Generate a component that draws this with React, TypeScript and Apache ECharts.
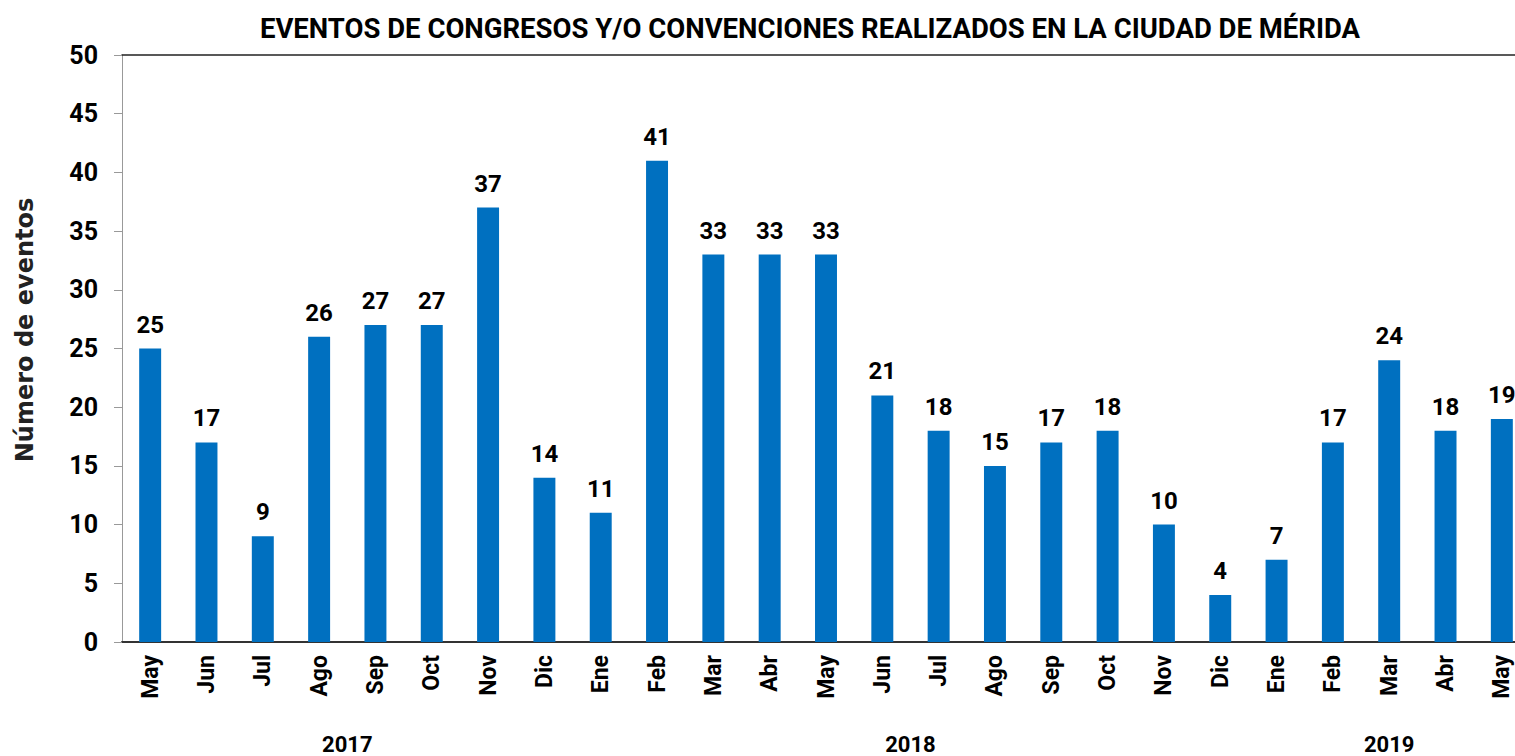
import React, { useEffect, useRef } from "react";
import * as echarts from "echarts";

const months = ["May","Jun","Jul","Ago","Sep","Oct","Nov","Dic","Ene","Feb","Mar","Abr","May","Jun","Jul","Ago","Sep","Oct","Nov","Dic","Ene","Feb","Mar","Abr","May"];
const eventos = [25,17,9,26,27,27,37,14,11,41,33,33,33,21,18,15,17,18,10,4,7,17,24,18,19];
const years = [
  { label: "2017", from: 0, to: 7 },
  { label: "2018", from: 8, to: 19 },
  { label: "2019", from: 20, to: 24 },
];
const title = "EVENTOS DE CONGRESOS Y/O CONVENCIONES REALIZADOS EN LA CIUDAD DE MÉRIDA";
const yName = "Número de eventos";

const FONT = "Roboto";

export default function App() {
  const ref = useRef<HTMLDivElement>(null);
  useEffect(() => {
    if (!ref.current) return;
    const chart = echarts.init(ref.current, null, { renderer: "svg" });
    const cats = months.map((m, i) => m + "_" + i);
    chart.setOption({
      animation: false,
      title: {
        text: title,
        left: 805,
        top: 9,
        textAlign: "center",
        textStyle: { fontFamily: FONT, fontWeight: "bold", fontSize: 27.5, color: "#000" },
      },
      grid: { left: 122, top: 55, bottom: 114, right: 0 },
      xAxis: [
        {
          type: "category",
          data: cats,
          axisLine: { show: true, lineStyle: { color: "#333", width: 2 } },
          axisTick: { show: false },
          axisLabel: {
            rotate: 90,
            margin: 13,
            fontFamily: FONT,
            fontWeight: "bold",
            fontSize: 23,
            color: "#000",
            formatter: (v: string) => v.split("_")[0],
          },
        },
        {
          type: "category",
          position: "top",
          data: cats,
          axisLine: { show: true, lineStyle: { color: "#222", width: 1.5 } },
          axisTick: { show: false },
          axisLabel: { show: false },
        },
      ],
      yAxis: {
        type: "value",
        min: 0,
        max: 50,
        interval: 5,
        axisLine: { show: true, lineStyle: { color: "#999", width: 1 } },
        axisTick: { show: true, length: 8, lineStyle: { color: "#999" } },
        splitLine: { show: false },
        axisLabel: { margin: 24, fontFamily: FONT, fontWeight: "bold", fontSize: 25, color: "#000" },
      },
      series: [
        {
          type: "bar",
          data: eventos,
          barWidth: "39%",
          itemStyle: { color: "#0070C0" },
          label: {
            show: true,
            position: "top",
            distance: 12,
            fontFamily: FONT,
            fontWeight: "bold",
            fontSize: 24,
            color: "#000",
          },
        },
      ],
    });
    const graphics: any[] = years.map((y) => {
      const a = chart.convertToPixel({ xAxisIndex: 0 }, cats[y.from]) as number;
      const b = chart.convertToPixel({ xAxisIndex: 0 }, cats[y.to]) as number;
      return {
        type: "text",
        x: (a + b) / 2,
        y: 744,
        style: {
          text: y.label,
          fontFamily: FONT,
          fontWeight: "bold",
          fontSize: 22,
          fill: "#000",
          align: "center",
          verticalAlign: "middle",
        },
      };
    });
    graphics.push({
      type: "text",
      x: 25,
      y: 330,
      rotation: Math.PI / 2,
      style: {
        text: yName,
        fontFamily: "DejaVu Sans",
        fontWeight: "bold",
        fontSize: 24,
        fill: "#222",
        align: "center",
        verticalAlign: "middle",
      },
    });
    chart.setOption({ graphic: graphics });
    return () => chart.dispose();
  }, []);
  return (
    <div style={{ position: "fixed", left: 0, top: 0, width: 1515, height: 756, overflow: "hidden", background: "#fff" }}>
      <div ref={ref} style={{ width: 1530, height: 756 }} />
    </div>
  );
}
